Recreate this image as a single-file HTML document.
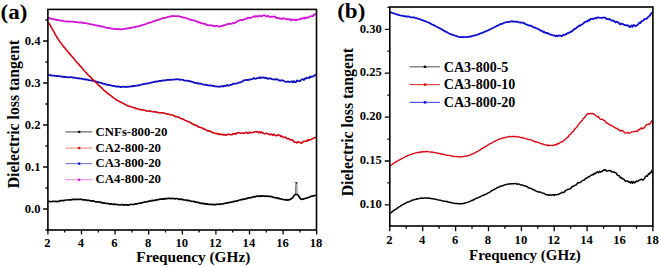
<!DOCTYPE html>
<html><head><meta charset="utf-8"><style>
html,body{margin:0;padding:0;background:#fff;}
svg{display:block;}
</style></head><body>
<svg width="660" height="267" viewBox="0 0 660 267">
<rect width="660" height="267" fill="#fff"/>
<path d="M48.0,17.7 L49.0,17.9 L50.0,18.5 L51.0,18.5 L52.0,19.0 L53.0,19.1 L54.0,19.2 L55.0,19.6 L56.0,19.6 L57.0,20.0 L58.0,20.0 L59.0,20.1 L60.0,20.5 L61.0,20.8 L62.0,20.6 L63.0,20.8 L64.0,21.1 L65.0,21.3 L66.0,21.3 L67.0,21.3 L68.0,21.7 L69.0,21.3 L70.0,21.8 L71.0,21.6 L72.0,21.6 L73.0,21.7 L74.0,21.9 L75.0,22.2 L76.0,22.0 L77.0,22.3 L78.0,22.4 L79.0,22.4 L80.0,22.6 L81.0,22.4 L82.0,22.6 L83.0,22.8 L84.0,23.1 L85.0,23.1 L86.0,23.2 L87.0,23.5 L88.0,23.7 L89.0,23.8 L90.0,24.2 L91.0,24.3 L92.0,24.3 L93.0,24.7 L94.0,24.9 L95.0,25.2 L96.0,25.4 L97.0,25.4 L98.0,25.9 L99.0,25.7 L100.0,26.1 L101.0,26.5 L102.0,26.4 L103.0,26.8 L104.0,26.8 L105.0,27.3 L106.0,27.6 L107.0,27.7 L108.0,28.0 L109.0,28.0 L110.0,28.3 L111.0,28.4 L112.0,28.6 L113.0,28.7 L114.0,29.0 L115.0,29.1 L116.0,29.0 L117.0,29.2 L118.0,28.9 L119.0,29.3 L120.0,29.2 L121.0,29.4 L122.0,29.3 L123.0,28.9 L124.0,28.9 L125.0,28.9 L126.0,28.5 L127.0,28.6 L128.0,28.3 L129.0,28.1 L130.0,27.9 L131.0,28.0 L132.0,27.5 L133.0,27.4 L134.0,27.2 L135.0,27.2 L136.0,26.6 L137.0,26.5 L138.0,26.3 L139.0,26.2 L140.0,25.9 L141.0,25.6 L142.0,25.0 L143.0,24.8 L144.0,24.5 L145.0,24.4 L146.0,24.1 L147.0,23.4 L148.0,23.1 L149.0,22.8 L150.0,22.5 L151.0,22.3 L152.0,22.0 L153.0,21.4 L154.0,21.0 L155.0,20.8 L156.0,20.4 L157.0,20.2 L158.0,20.1 L159.0,19.6 L160.0,19.1 L161.0,18.8 L162.0,18.6 L163.0,17.9 L164.0,18.1 L165.0,17.8 L166.0,17.6 L167.0,17.3 L168.0,16.8 L169.0,16.7 L170.0,16.3 L171.0,16.5 L172.0,16.1 L173.0,16.0 L174.0,16.1 L175.0,16.1 L176.0,16.3 L177.0,16.1 L178.0,16.2 L179.0,16.4 L180.0,16.5 L181.0,16.9 L182.0,16.8 L183.0,17.7 L184.0,17.7 L185.0,17.6 L186.0,18.0 L187.0,18.4 L188.0,18.7 L189.0,18.8 L190.0,19.7 L191.0,20.1 L192.0,20.0 L193.0,20.4 L194.0,20.4 L195.0,20.7 L196.0,21.2 L197.0,21.5 L198.0,22.3 L199.0,22.1 L200.0,22.3 L201.0,23.4 L202.0,23.3 L203.0,23.3 L204.0,23.9 L205.0,23.7 L206.0,24.4 L207.0,25.1 L208.0,25.2 L209.0,25.3 L210.0,25.1 L211.0,25.4 L212.0,25.3 L213.0,26.0 L214.0,25.9 L215.0,26.2 L216.0,25.8 L217.0,25.8 L218.0,26.3 L219.0,26.5 L220.0,26.3 L221.0,26.2 L222.0,26.0 L223.0,25.8 L224.0,25.1 L225.0,25.2 L226.0,24.8 L227.0,24.2 L228.0,24.0 L229.0,23.9 L230.0,23.6 L231.0,23.8 L232.0,23.7 L233.0,22.9 L234.0,23.1 L235.0,22.8 L236.0,22.4 L237.0,21.4 L238.0,20.9 L239.0,20.6 L240.0,20.2 L241.0,19.9 L242.0,20.0 L243.0,20.0 L244.0,19.6 L245.0,18.9 L246.0,18.8 L247.0,18.7 L248.0,17.5 L249.0,17.9 L250.0,18.0 L251.0,17.6 L252.0,17.3 L253.0,16.8 L254.0,16.2 L255.0,16.8 L256.0,16.0 L257.0,16.5 L258.0,16.6 L259.0,15.8 L260.0,15.7 L261.0,16.4 L262.0,16.1 L263.0,15.4 L264.0,15.3 L265.0,15.4 L266.0,16.5 L267.0,16.4 L268.0,15.7 L269.0,16.7 L270.0,17.0 L271.0,16.8 L272.0,16.5 L273.0,16.9 L274.0,16.5 L275.0,16.6 L276.0,18.1 L277.0,17.8 L278.0,17.8 L279.0,18.6 L280.0,18.1 L281.0,18.9 L282.0,19.0 L283.0,18.3 L284.0,18.5 L285.0,18.7 L286.0,18.8 L287.0,19.4 L288.0,19.1 L289.0,19.4 L290.0,19.1 L291.0,20.3 L292.0,19.5 L293.0,19.7 L294.0,19.9 L295.0,20.3 L296.0,19.5 L297.0,20.2 L298.0,19.5 L299.0,19.4 L300.0,19.3 L301.0,18.3 L302.0,18.8 L303.0,18.2 L304.0,17.7 L305.0,18.7 L306.0,17.4 L307.0,17.6 L308.0,17.7 L309.0,17.1 L310.0,16.4 L311.0,16.3 L312.0,16.0 L313.0,16.0 L314.0,14.4 L315.0,14.7 L316.0,13.7" fill="none" stroke="#d414d4" stroke-width="1.8" stroke-linejoin="round"/>
<path d="M48.0,74.7 L49.0,75.1 L50.0,75.1 L51.0,75.3 L52.0,75.5 L53.0,75.7 L54.0,75.6 L55.0,75.8 L56.0,75.9 L57.0,76.0 L58.0,76.2 L59.0,76.2 L60.0,76.4 L61.0,76.4 L62.0,76.8 L63.0,76.7 L64.0,76.9 L65.0,77.1 L66.0,76.8 L67.0,77.1 L68.0,77.3 L69.0,77.4 L70.0,77.1 L71.0,77.2 L72.0,77.5 L73.0,77.4 L74.0,77.6 L75.0,77.6 L76.0,78.1 L77.0,78.2 L78.0,78.4 L79.0,78.2 L80.0,78.6 L81.0,78.7 L82.0,78.6 L83.0,79.1 L84.0,79.3 L85.0,79.1 L86.0,79.6 L87.0,79.5 L88.0,79.8 L89.0,80.2 L90.0,80.4 L91.0,80.3 L92.0,80.6 L93.0,80.9 L94.0,81.1 L95.0,81.2 L96.0,81.6 L97.0,82.0 L98.0,81.9 L99.0,82.5 L100.0,82.7 L101.0,82.8 L102.0,83.2 L103.0,83.6 L104.0,83.8 L105.0,83.8 L106.0,84.6 L107.0,84.7 L108.0,85.0 L109.0,84.8 L110.0,85.1 L111.0,85.3 L112.0,85.8 L113.0,85.8 L114.0,85.9 L115.0,86.2 L116.0,86.6 L117.0,86.7 L118.0,86.5 L119.0,86.5 L120.0,87.0 L121.0,86.9 L122.0,87.0 L123.0,86.7 L124.0,86.7 L125.0,87.0 L126.0,86.8 L127.0,86.6 L128.0,86.9 L129.0,86.7 L130.0,86.7 L131.0,86.2 L132.0,86.5 L133.0,85.9 L134.0,86.2 L135.0,85.8 L136.0,85.6 L137.0,85.6 L138.0,85.6 L139.0,85.1 L140.0,84.8 L141.0,84.8 L142.0,84.5 L143.0,84.2 L144.0,84.0 L145.0,83.8 L146.0,83.6 L147.0,83.5 L148.0,83.3 L149.0,83.3 L150.0,82.8 L151.0,82.7 L152.0,82.3 L153.0,82.2 L154.0,81.8 L155.0,81.8 L156.0,81.4 L157.0,81.6 L158.0,81.3 L159.0,80.9 L160.0,80.9 L161.0,81.0 L162.0,80.4 L163.0,80.6 L164.0,80.3 L165.0,80.2 L166.0,80.3 L167.0,79.9 L168.0,79.8 L169.0,79.9 L170.0,80.0 L171.0,79.5 L172.0,79.8 L173.0,79.7 L174.0,79.6 L175.0,79.4 L176.0,79.4 L177.0,79.2 L178.0,79.3 L179.0,79.4 L180.0,79.9 L181.0,79.7 L182.0,79.7 L183.0,79.8 L184.0,80.5 L185.0,80.7 L186.0,80.7 L187.0,80.6 L188.0,80.8 L189.0,81.0 L190.0,81.4 L191.0,81.4 L192.0,81.8 L193.0,81.9 L194.0,82.7 L195.0,83.0 L196.0,82.9 L197.0,82.9 L198.0,83.7 L199.0,83.4 L200.0,83.7 L201.0,83.6 L202.0,84.2 L203.0,84.5 L204.0,84.7 L205.0,84.7 L206.0,85.1 L207.0,84.9 L208.0,85.3 L209.0,85.3 L210.0,85.7 L211.0,85.5 L212.0,85.6 L213.0,86.0 L214.0,86.0 L215.0,86.4 L216.0,86.4 L217.0,86.7 L218.0,86.6 L219.0,86.6 L220.0,86.8 L221.0,86.2 L222.0,86.1 L223.0,86.6 L224.0,85.7 L225.0,86.1 L226.0,85.9 L227.0,85.0 L228.0,85.7 L229.0,85.5 L230.0,85.0 L231.0,84.9 L232.0,84.7 L233.0,83.7 L234.0,83.9 L235.0,83.6 L236.0,83.6 L237.0,83.3 L238.0,83.1 L239.0,82.5 L240.0,82.6 L241.0,82.0 L242.0,81.7 L243.0,80.9 L244.0,80.4 L245.0,80.2 L246.0,80.2 L247.0,79.7 L248.0,80.3 L249.0,79.7 L250.0,79.5 L251.0,79.3 L252.0,79.2 L253.0,78.7 L254.0,77.9 L255.0,78.8 L256.0,78.6 L257.0,78.1 L258.0,78.1 L259.0,78.1 L260.0,77.3 L261.0,78.1 L262.0,77.5 L263.0,77.3 L264.0,77.6 L265.0,78.2 L266.0,77.6 L267.0,78.4 L268.0,78.9 L269.0,78.4 L270.0,78.4 L271.0,78.7 L272.0,79.1 L273.0,79.4 L274.0,79.4 L275.0,79.7 L276.0,79.1 L277.0,79.4 L278.0,79.7 L279.0,80.7 L280.0,80.2 L281.0,80.8 L282.0,80.2 L283.0,80.5 L284.0,80.9 L285.0,81.7 L286.0,81.8 L287.0,81.9 L288.0,81.4 L289.0,81.8 L290.0,81.8 L291.0,81.8 L292.0,81.2 L293.0,82.3 L294.0,81.2 L295.0,82.2 L296.0,82.0 L297.0,80.4 L298.0,80.9 L299.0,81.2 L300.0,81.2 L301.0,80.1 L302.0,79.5 L303.0,79.1 L304.0,80.0 L305.0,78.4 L306.0,78.7 L307.0,77.6 L308.0,77.9 L309.0,78.2 L310.0,76.5 L311.0,77.2 L312.0,76.3 L313.0,76.6 L314.0,75.9 L315.0,74.8 L316.0,75.6" fill="none" stroke="#1010c4" stroke-width="1.8" stroke-linejoin="round"/>
<path d="M48.2,22.5 L49.2,23.7 L50.2,25.2 L51.2,27.2 L52.2,28.9 L53.2,30.7 L54.2,32.4 L55.2,34.3 L56.2,36.0 L57.2,37.9 L58.2,39.0 L59.2,40.9 L60.2,42.3 L61.2,43.3 L62.2,44.9 L63.2,46.1 L64.2,47.4 L65.3,48.4 L66.3,49.7 L67.3,50.9 L68.3,52.4 L69.3,53.4 L70.3,54.5 L71.3,55.7 L72.3,56.8 L73.3,57.9 L74.3,59.1 L75.3,60.6 L76.3,61.5 L77.3,63.0 L78.3,63.8 L79.3,64.9 L80.3,66.2 L81.3,67.1 L82.3,68.3 L83.3,69.7 L84.3,70.7 L85.3,71.8 L86.3,72.8 L87.3,74.0 L88.3,75.0 L89.3,75.9 L90.3,77.0 L91.3,77.7 L92.3,79.1 L93.3,79.9 L94.3,81.1 L95.3,82.0 L96.3,82.8 L97.3,83.7 L98.3,85.1 L99.4,85.7 L100.4,86.8 L101.4,87.7 L102.4,88.6 L103.4,89.7 L104.4,90.8 L105.4,91.3 L106.4,92.4 L107.4,93.0 L108.4,94.0 L109.4,94.7 L110.4,95.4 L111.4,96.1 L112.4,96.9 L113.4,97.9 L114.4,98.4 L115.4,99.0 L116.4,100.0 L117.4,100.6 L118.4,101.0 L119.4,101.4 L120.4,102.0 L121.4,102.5 L122.4,103.1 L123.4,103.5 L124.4,104.0 L125.4,104.5 L126.4,105.1 L127.4,105.7 L128.4,106.0 L129.4,106.3 L130.4,106.6 L131.4,107.0 L132.5,107.3 L133.5,107.6 L134.5,107.8 L135.5,108.2 L136.5,108.8 L137.5,108.6 L138.5,109.1 L139.5,109.4 L140.5,109.7 L141.5,109.6 L142.5,109.9 L143.5,110.0 L144.5,110.3 L145.5,110.5 L146.5,110.9 L147.5,111.0 L148.5,111.2 L149.5,110.9 L150.5,111.1 L151.5,111.5 L152.5,111.8 L153.5,111.7 L154.5,111.9 L155.5,111.7 L156.5,112.0 L157.5,112.5 L158.5,112.6 L159.5,112.7 L160.5,112.9 L161.5,112.7 L162.5,112.7 L163.5,112.9 L164.5,113.3 L165.6,113.6 L166.6,114.0 L167.6,114.1 L168.6,114.3 L169.6,114.6 L170.6,114.7 L171.6,115.0 L172.6,115.0 L173.6,115.8 L174.6,115.8 L175.6,116.6 L176.6,116.8 L177.6,116.9 L178.6,117.2 L179.6,117.7 L180.6,118.4 L181.6,118.9 L182.6,118.9 L183.6,119.3 L184.6,120.1 L185.6,120.6 L186.6,120.9 L187.6,121.2 L188.6,122.0 L189.6,122.0 L190.6,122.7 L191.6,123.3 L192.6,124.2 L193.6,124.4 L194.6,125.1 L195.6,125.3 L196.6,125.5 L197.6,126.0 L198.6,127.1 L199.7,127.3 L200.7,127.5 L201.7,127.7 L202.7,128.5 L203.7,129.1 L204.7,129.3 L205.7,129.6 L206.7,130.4 L207.7,131.0 L208.7,130.8 L209.7,131.0 L210.7,131.6 L211.7,132.0 L212.7,132.6 L213.7,132.5 L214.7,133.3 L215.7,133.5 L216.7,133.6 L217.7,133.5 L218.7,134.5 L219.7,134.0 L220.7,134.7 L221.7,134.3 L222.7,134.4 L223.7,135.0 L224.7,134.6 L225.7,135.3 L226.7,134.8 L227.7,134.4 L228.7,134.4 L229.7,134.5 L230.7,134.7 L231.7,134.8 L232.8,133.8 L233.8,133.9 L234.8,133.5 L235.8,134.2 L236.8,133.1 L237.8,132.8 L238.8,132.6 L239.8,132.9 L240.8,133.3 L241.8,133.2 L242.8,133.0 L243.8,133.3 L244.8,133.2 L245.8,132.5 L246.8,132.4 L247.8,133.3 L248.8,133.1 L249.8,132.2 L250.8,132.9 L251.8,132.5 L252.8,132.4 L253.8,132.2 L254.8,131.9 L255.8,131.6 L256.8,131.9 L257.8,131.9 L258.8,132.7 L259.8,131.7 L260.8,132.9 L261.8,132.1 L262.8,132.6 L263.8,133.4 L264.8,133.7 L265.9,133.4 L266.9,133.2 L267.9,134.0 L268.9,134.0 L269.9,134.9 L270.9,134.1 L271.9,134.5 L272.9,135.4 L273.9,134.3 L274.9,134.9 L275.9,135.6 L276.9,135.7 L277.9,134.8 L278.9,135.0 L279.9,135.2 L280.9,136.7 L281.9,136.0 L282.9,137.0 L283.9,137.6 L284.9,137.1 L285.9,137.4 L286.9,138.8 L287.9,138.7 L288.9,138.6 L289.9,139.8 L290.9,139.7 L291.9,140.1 L292.9,140.1 L293.9,141.7 L294.9,142.3 L295.9,142.2 L296.9,142.9 L297.9,141.7 L298.9,142.1 L300.0,142.4 L301.0,143.1 L302.0,142.9 L303.0,141.8 L304.0,141.3 L305.0,141.3 L306.0,141.0 L307.0,141.3 L308.0,139.7 L309.0,140.3 L310.0,139.8 L311.0,139.5 L312.0,139.1 L313.0,138.5 L314.0,137.7 L315.0,137.5 L316.0,137.4" fill="none" stroke="#d40010" stroke-width="1.6" stroke-linejoin="round"/>
<path d="M48.0,201.8 L49.0,201.4 L50.0,201.5 L51.0,201.8 L52.0,201.5 L53.0,201.3 L54.0,201.3 L55.0,201.5 L56.0,201.3 L57.0,201.6 L58.0,201.4 L59.0,201.4 L60.0,200.8 L61.0,200.6 L62.0,200.5 L63.0,200.6 L64.0,200.6 L65.0,200.3 L66.0,200.0 L67.0,200.0 L68.0,200.0 L69.0,199.9 L70.0,199.9 L71.0,199.9 L72.0,199.7 L73.0,199.3 L74.0,199.6 L75.0,199.3 L76.0,199.4 L77.0,199.3 L78.0,199.5 L79.1,199.3 L80.1,199.3 L81.1,199.4 L82.1,199.4 L83.1,199.9 L84.1,199.8 L85.1,199.8 L86.1,200.0 L87.1,200.4 L88.1,200.3 L89.1,200.3 L90.1,200.8 L91.1,200.8 L92.1,201.2 L93.1,200.8 L94.1,201.2 L95.1,201.6 L96.1,201.8 L97.1,202.0 L98.1,201.7 L99.1,202.0 L100.1,202.1 L101.1,202.3 L102.1,202.9 L103.1,202.9 L104.1,203.2 L105.1,203.1 L106.1,203.5 L107.1,203.4 L108.1,203.5 L109.1,203.9 L110.1,204.2 L111.1,203.8 L112.1,204.2 L113.1,204.3 L114.1,204.2 L115.1,204.4 L116.1,204.4 L117.1,204.5 L118.1,204.6 L119.1,204.9 L120.1,205.0 L121.1,204.7 L122.1,204.7 L123.1,204.9 L124.1,205.1 L125.1,204.8 L126.1,204.8 L127.1,204.8 L128.1,205.1 L129.1,204.9 L130.1,204.5 L131.1,204.4 L132.1,204.5 L133.1,204.5 L134.1,204.4 L135.1,203.9 L136.1,203.8 L137.1,203.9 L138.1,203.5 L139.1,203.2 L140.1,203.0 L141.2,203.2 L142.2,202.6 L143.2,202.5 L144.2,202.1 L145.2,201.9 L146.2,202.0 L147.2,201.9 L148.2,201.3 L149.2,201.0 L150.2,201.2 L151.2,200.7 L152.2,200.4 L153.2,200.7 L154.2,200.3 L155.2,200.3 L156.2,199.9 L157.2,200.0 L158.2,199.6 L159.2,199.3 L160.2,199.1 L161.2,199.2 L162.2,199.2 L163.2,199.2 L164.2,198.6 L165.2,198.8 L166.2,198.6 L167.2,198.6 L168.2,198.3 L169.2,198.3 L170.2,198.5 L171.2,198.7 L172.2,198.2 L173.2,198.5 L174.2,198.7 L175.2,198.9 L176.2,198.5 L177.2,198.5 L178.2,199.1 L179.2,199.3 L180.2,199.1 L181.2,199.0 L182.2,199.7 L183.2,199.5 L184.2,200.0 L185.2,200.0 L186.2,200.3 L187.2,200.1 L188.2,200.7 L189.2,200.5 L190.2,200.8 L191.2,201.3 L192.2,201.5 L193.2,201.3 L194.2,201.6 L195.2,201.9 L196.2,202.2 L197.2,202.3 L198.2,202.4 L199.2,202.7 L200.2,203.1 L201.2,203.4 L202.3,203.1 L203.3,203.6 L204.3,203.9 L205.3,203.6 L206.3,204.2 L207.3,203.9 L208.3,204.3 L209.3,204.4 L210.3,204.5 L211.3,204.3 L212.3,204.4 L213.3,204.6 L214.3,204.5 L215.3,204.6 L216.3,204.4 L217.3,204.3 L218.3,204.0 L219.3,204.3 L220.3,204.1 L221.3,203.8 L222.3,204.0 L223.3,203.9 L224.3,203.5 L225.3,203.2 L226.3,203.2 L227.3,202.8 L228.3,202.6 L229.3,202.6 L230.3,202.2 L231.3,202.2 L232.3,202.0 L233.3,201.5 L234.3,201.6 L235.3,201.0 L236.3,201.1 L237.3,200.9 L238.3,200.5 L239.3,200.0 L240.3,200.0 L241.3,199.6 L242.3,199.7 L243.3,199.0 L244.3,199.1 L245.3,199.0 L246.3,198.6 L247.3,198.4 L248.3,197.8 L249.3,198.0 L250.3,197.5 L251.3,197.6 L252.3,197.3 L253.3,196.7 L254.3,196.9 L255.3,196.8 L256.3,196.2 L257.3,196.2 L258.3,196.4 L259.3,195.9 L260.3,196.3 L261.3,195.9 L262.3,196.2 L263.3,195.8 L264.4,196.1 L265.4,196.4 L266.4,196.0 L267.4,196.1 L268.4,196.4 L269.4,196.4 L270.4,196.4 L271.4,196.6 L272.4,196.8 L273.4,197.4 L274.4,197.5 L275.4,197.8 L276.4,197.6 L277.4,198.3 L278.4,198.1 L279.4,198.6 L280.4,198.9 L281.4,199.0 L282.4,199.5 L283.4,199.5 L284.4,199.7 L285.4,200.0 L286.4,199.6 L287.4,200.2 L288.4,199.9 L289.4,199.6 L290.4,199.5 L291.4,198.6 L292.4,198.1 L293.4,196.6 L294.4,194.9" fill="none" stroke="#000000" stroke-width="1.7" stroke-linejoin="round"/>
<path d="M298.1,194.9 L299.2,197.1 L300.2,198.4 L301.3,199.4 L302.3,199.0 L303.4,199.2 L304.4,198.5 L305.5,198.4 L306.5,198.2 L307.6,197.7 L308.6,197.4 L309.7,196.9 L310.7,196.4 L311.8,196.2 L312.8,195.9 L313.9,195.9 L314.9,195.5 L316.0,195.2" fill="none" stroke="#000000" stroke-width="1.7" stroke-linejoin="round"/>
<path d="M390.0,12.3 L391.0,12.4 L392.0,12.8 L393.0,13.3 L394.0,13.4 L395.0,13.7 L396.0,14.2 L397.0,14.4 L398.0,14.8 L399.0,15.0 L400.0,15.4 L401.0,15.6 L402.0,15.6 L403.0,16.0 L404.0,16.1 L405.0,16.1 L406.0,16.6 L407.0,16.4 L408.0,16.5 L409.0,16.7 L410.0,17.0 L411.0,17.3 L412.0,17.4 L413.0,17.4 L414.0,17.5 L415.0,17.7 L416.0,18.2 L417.1,18.4 L418.1,18.6 L419.1,19.0 L420.1,19.2 L421.1,19.8 L422.1,20.1 L423.1,20.2 L424.1,20.9 L425.1,21.0 L426.1,21.6 L427.1,22.0 L428.1,22.3 L429.1,22.7 L430.1,23.5 L431.1,23.7 L432.1,24.4 L433.1,25.0 L434.1,25.2 L435.1,25.8 L436.1,26.5 L437.1,26.9 L438.1,27.5 L439.1,28.1 L440.1,28.4 L441.1,29.0 L442.1,29.6 L443.1,30.0 L444.1,30.9 L445.1,31.4 L446.1,31.9 L447.1,32.2 L448.1,33.0 L449.1,33.5 L450.1,33.8 L451.1,34.4 L452.1,34.7 L453.1,35.0 L454.1,35.3 L455.1,35.7 L456.1,35.9 L457.1,36.3 L458.1,36.7 L459.1,36.9 L460.1,37.1 L461.1,37.1 L462.1,37.0 L463.1,37.2 L464.1,37.1 L465.1,37.2 L466.1,37.1 L467.1,36.9 L468.1,36.9 L469.2,36.9 L470.2,36.4 L471.2,36.5 L472.2,35.9 L473.2,35.8 L474.2,35.5 L475.2,35.4 L476.2,35.2 L477.2,34.8 L478.2,34.2 L479.2,34.1 L480.2,33.5 L481.2,33.1 L482.2,32.9 L483.2,32.4 L484.2,32.0 L485.2,31.6 L486.2,31.2 L487.2,30.6 L488.2,30.3 L489.2,29.7 L490.2,29.3 L491.2,28.7 L492.2,28.3 L493.2,27.8 L494.2,27.2 L495.2,26.7 L496.2,26.3 L497.2,25.7 L498.2,25.5 L499.2,24.8 L500.2,24.3 L501.2,23.9 L502.2,23.9 L503.2,23.3 L504.2,22.8 L505.2,22.5 L506.2,22.2 L507.2,22.2 L508.2,22.0 L509.2,21.8 L510.2,21.7 L511.2,21.2 L512.2,21.5 L513.2,21.3 L514.2,21.6 L515.2,21.7 L516.2,21.8 L517.2,21.5 L518.2,22.1 L519.2,22.4 L520.2,22.6 L521.2,22.4 L522.3,22.7 L523.3,23.0 L524.3,23.2 L525.3,24.2 L526.3,24.5 L527.3,24.7 L528.3,25.3 L529.3,25.5 L530.3,25.7 L531.3,25.9 L532.3,26.4 L533.3,27.3 L534.3,27.3 L535.3,27.8 L536.3,28.4 L537.3,28.5 L538.3,29.1 L539.3,29.6 L540.3,30.5 L541.3,30.6 L542.3,31.0 L543.3,32.0 L544.3,32.0 L545.3,32.8 L546.3,33.0 L547.3,32.8 L548.3,33.6 L549.3,34.0 L550.3,34.7 L551.3,34.6 L552.3,35.3 L553.3,35.4 L554.3,35.3 L555.3,36.2 L556.3,35.5 L557.3,36.4 L558.3,35.7 L559.3,35.4 L560.3,35.6 L561.3,36.0 L562.3,36.1 L563.3,34.7 L564.3,34.9 L565.3,34.5 L566.3,34.4 L567.3,33.2 L568.3,33.1 L569.3,32.4 L570.3,32.4 L571.3,31.1 L572.3,31.3 L573.3,29.8 L574.4,29.0 L575.4,28.9 L576.4,28.0 L577.4,26.7 L578.4,26.7 L579.4,25.3 L580.4,25.5 L581.4,24.7 L582.4,24.2 L583.4,23.4 L584.4,22.4 L585.4,21.9 L586.4,21.3 L587.4,21.6 L588.4,19.9 L589.4,20.6 L590.4,19.0 L591.4,18.8 L592.4,18.6 L593.4,19.2 L594.4,18.3 L595.4,17.9 L596.4,18.5 L597.4,17.3 L598.4,17.5 L599.4,17.6 L600.4,17.9 L601.4,17.9 L602.4,17.9 L603.4,17.5 L604.4,17.7 L605.4,17.6 L606.4,19.0 L607.4,19.0 L608.4,19.4 L609.4,18.8 L610.4,19.6 L611.4,20.6 L612.4,20.7 L613.4,20.3 L614.4,21.3 L615.4,22.4 L616.4,21.7 L617.4,22.0 L618.4,22.6 L619.4,23.7 L620.4,24.4 L621.4,23.5 L622.4,23.9 L623.4,24.4 L624.4,24.8 L625.4,25.5 L626.5,25.1 L627.5,25.6 L628.5,25.5 L629.5,27.1 L630.5,26.7 L631.5,25.4 L632.5,26.9 L633.5,25.0 L634.5,25.3 L635.5,26.2 L636.5,25.5 L637.5,24.9 L638.5,23.8 L639.5,22.7 L640.5,23.1 L641.5,21.3 L642.5,20.8 L643.5,20.5 L644.5,19.0 L645.5,18.9 L646.5,18.9 L647.5,17.8 L648.5,16.5 L649.5,15.9 L650.5,14.6 L651.5,12.9 L652.5,12.9" fill="none" stroke="#1010d0" stroke-width="1.8" stroke-linejoin="round"/>
<path d="M390.0,165.7 L391.0,165.2 L392.0,164.6 L393.0,163.7 L394.0,163.2 L395.0,162.6 L396.0,161.8 L397.0,161.2 L398.0,160.8 L399.0,160.2 L400.0,159.6 L401.0,159.0 L402.0,158.6 L403.0,158.0 L404.0,157.5 L405.0,156.9 L406.0,156.4 L407.0,156.1 L408.0,155.4 L409.0,155.1 L410.0,154.9 L411.0,154.5 L412.0,154.1 L413.0,153.6 L414.0,153.4 L415.0,153.1 L416.0,152.9 L417.1,152.6 L418.1,152.5 L419.1,152.4 L420.1,152.0 L421.1,152.0 L422.1,152.0 L423.1,151.7 L424.1,151.7 L425.1,151.9 L426.1,151.5 L427.1,151.7 L428.1,151.6 L429.1,151.9 L430.1,152.1 L431.1,152.0 L432.1,151.9 L433.1,152.3 L434.1,152.4 L435.1,152.7 L436.1,152.8 L437.1,153.0 L438.1,153.3 L439.1,153.4 L440.1,153.6 L441.1,154.0 L442.1,153.9 L443.1,154.4 L444.1,154.5 L445.1,154.8 L446.1,154.8 L447.1,155.4 L448.1,155.3 L449.1,155.4 L450.1,155.7 L451.1,155.9 L452.1,156.0 L453.1,156.3 L454.1,156.4 L455.1,156.6 L456.1,156.6 L457.1,156.6 L458.1,156.7 L459.1,156.9 L460.1,157.0 L461.1,156.8 L462.1,156.6 L463.1,156.7 L464.1,156.4 L465.1,156.2 L466.1,156.0 L467.1,156.0 L468.1,155.7 L469.2,155.3 L470.2,154.9 L471.2,154.5 L472.2,153.9 L473.2,153.8 L474.2,153.1 L475.2,152.7 L476.2,152.2 L477.2,151.7 L478.2,151.0 L479.2,150.3 L480.2,149.8 L481.2,149.0 L482.2,148.7 L483.2,147.9 L484.2,147.5 L485.2,146.7 L486.2,146.1 L487.2,145.4 L488.2,144.9 L489.2,144.2 L490.2,143.6 L491.2,143.3 L492.2,142.6 L493.2,142.0 L494.2,141.5 L495.2,141.1 L496.2,140.6 L497.2,140.2 L498.2,139.7 L499.2,139.2 L500.2,139.0 L501.2,138.6 L502.2,138.0 L503.2,138.0 L504.2,137.8 L505.2,137.5 L506.2,137.0 L507.2,137.1 L508.2,136.9 L509.2,136.5 L510.2,136.4 L511.2,136.9 L512.2,136.7 L513.2,136.5 L514.2,136.4 L515.2,136.5 L516.2,136.6 L517.2,137.0 L518.2,136.9 L519.2,136.9 L520.2,137.5 L521.2,137.6 L522.3,137.4 L523.3,138.1 L524.3,138.1 L525.3,138.4 L526.3,138.6 L527.3,139.1 L528.3,139.3 L529.3,139.6 L530.3,139.5 L531.3,140.2 L532.3,140.4 L533.3,141.0 L534.3,141.1 L535.3,141.9 L536.3,142.0 L537.3,142.2 L538.3,142.5 L539.3,142.8 L540.3,143.5 L541.3,143.5 L542.3,144.1 L543.3,144.1 L544.3,144.7 L545.3,144.9 L546.3,145.1 L547.3,145.6 L548.3,144.9 L549.3,145.7 L550.3,145.4 L551.3,145.4 L552.3,145.5 L553.3,145.5 L554.3,144.9 L555.3,144.7 L556.3,145.0 L557.3,143.6 L558.3,143.9 L559.3,143.4 L560.3,142.2 L561.3,142.2 L562.3,141.7 L563.3,141.2 L564.3,139.8 L565.3,139.7 L566.3,138.3 L567.3,137.3 L568.3,136.9 L569.3,134.8 L570.3,134.6 L571.3,133.4 L572.3,131.9 L573.3,131.4 L574.4,129.6 L575.4,128.6 L576.4,127.4 L577.4,126.5 L578.4,124.4 L579.4,123.5 L580.4,122.2 L581.4,121.1 L582.4,120.3 L583.4,118.3 L584.4,117.9 L585.4,116.1 L586.4,115.2 L587.4,113.9 L588.4,113.5 L589.4,113.8 L590.4,113.3 L591.4,113.7 L592.4,113.4 L593.4,113.8 L594.4,114.3 L595.4,115.3 L596.4,116.0 L597.4,116.9 L598.4,116.5 L599.4,118.3 L600.4,119.2 L601.4,119.3 L602.4,119.2 L603.4,120.2 L604.4,120.4 L605.4,121.3 L606.4,123.1 L607.4,123.1 L608.4,123.8 L609.4,124.6 L610.4,125.4 L611.4,125.5 L612.4,126.0 L613.4,126.7 L614.4,127.4 L615.4,127.8 L616.4,128.6 L617.4,128.4 L618.4,129.8 L619.4,130.0 L620.4,131.1 L621.4,130.3 L622.4,130.9 L623.4,131.0 L624.4,132.7 L625.4,133.1 L626.5,132.8 L627.5,132.3 L628.5,133.2 L629.5,133.1 L630.5,132.6 L631.5,131.9 L632.5,131.8 L633.5,131.8 L634.5,131.3 L635.5,131.2 L636.5,131.3 L637.5,131.5 L638.5,129.3 L639.5,129.9 L640.5,128.3 L641.5,128.0 L642.5,128.9 L643.5,127.8 L644.5,127.9 L645.5,126.2 L646.5,124.5 L647.5,124.6 L648.5,124.2 L649.5,124.2 L650.5,123.4 L651.5,121.4 L652.5,120.3" fill="none" stroke="#dc0010" stroke-width="1.35" stroke-linejoin="round"/>
<path d="M390.0,213.4 L391.0,212.8 L392.0,211.9 L393.0,211.1 L394.0,210.3 L395.0,209.5 L396.0,209.1 L397.0,208.2 L398.0,207.8 L399.0,206.8 L400.0,206.5 L401.0,205.6 L402.0,204.9 L403.0,204.6 L404.0,203.9 L405.0,203.5 L406.0,202.8 L407.0,202.3 L408.0,202.1 L409.0,201.6 L410.0,201.3 L411.0,200.8 L412.0,200.2 L413.0,200.1 L414.0,199.8 L415.0,199.4 L416.0,199.3 L417.1,198.8 L418.1,198.9 L419.1,198.6 L420.1,198.2 L421.1,198.0 L422.1,198.2 L423.1,198.2 L424.1,197.9 L425.1,197.9 L426.1,198.1 L427.1,198.0 L428.1,198.3 L429.1,198.3 L430.1,198.2 L431.1,198.5 L432.1,198.7 L433.1,198.8 L434.1,199.1 L435.1,199.1 L436.1,199.6 L437.1,199.6 L438.1,199.9 L439.1,200.1 L440.1,200.2 L441.1,200.4 L442.1,200.8 L443.1,201.1 L444.1,201.2 L445.1,201.3 L446.1,201.4 L447.1,201.5 L448.1,202.1 L449.1,202.2 L450.1,202.5 L451.1,202.5 L452.1,202.8 L453.1,203.1 L454.1,203.3 L455.1,203.4 L456.1,203.4 L457.1,203.6 L458.1,203.8 L459.1,203.7 L460.1,203.8 L461.1,203.7 L462.1,203.7 L463.1,203.6 L464.1,203.2 L465.1,202.9 L466.1,202.7 L467.1,202.4 L468.1,202.1 L469.2,201.8 L470.2,201.4 L471.2,200.6 L472.2,200.5 L473.2,200.0 L474.2,199.5 L475.2,198.9 L476.2,198.3 L477.2,198.1 L478.2,197.6 L479.2,197.1 L480.2,196.8 L481.2,196.1 L482.2,195.6 L483.2,195.3 L484.2,195.0 L485.2,194.3 L486.2,194.0 L487.2,193.6 L488.2,192.8 L489.2,192.3 L490.2,191.8 L491.2,191.1 L492.2,190.4 L493.2,189.9 L494.2,189.5 L495.2,188.9 L496.2,188.3 L497.2,187.6 L498.2,187.4 L499.2,187.0 L500.2,186.3 L501.2,186.1 L502.2,185.9 L503.2,185.5 L504.2,185.1 L505.2,184.8 L506.2,184.6 L507.2,184.2 L508.2,184.0 L509.2,183.9 L510.2,184.0 L511.2,183.8 L512.2,183.8 L513.2,183.7 L514.2,183.8 L515.2,183.6 L516.2,183.6 L517.2,184.3 L518.2,184.1 L519.2,184.1 L520.2,184.7 L521.2,185.1 L522.3,184.9 L523.3,185.5 L524.3,185.7 L525.3,186.2 L526.3,186.2 L527.3,186.6 L528.3,187.7 L529.3,188.1 L530.3,188.2 L531.3,188.7 L532.3,188.9 L533.3,189.8 L534.3,189.9 L535.3,190.8 L536.3,191.1 L537.3,191.6 L538.3,192.1 L539.3,191.9 L540.3,192.1 L541.3,192.6 L542.3,193.0 L543.3,193.2 L544.3,193.5 L545.3,194.2 L546.3,194.8 L547.3,194.6 L548.3,195.2 L549.3,195.3 L550.3,194.6 L551.3,195.2 L552.3,195.0 L553.3,194.6 L554.3,195.4 L555.3,194.5 L556.3,194.7 L557.3,194.5 L558.3,194.6 L559.3,193.9 L560.3,193.3 L561.3,193.0 L562.3,192.2 L563.3,192.7 L564.3,192.2 L565.3,190.8 L566.3,190.0 L567.3,189.7 L568.3,189.2 L569.3,189.2 L570.3,188.6 L571.3,187.8 L572.3,186.2 L573.3,186.4 L574.4,185.7 L575.4,185.0 L576.4,184.8 L577.4,183.0 L578.4,182.5 L579.4,182.8 L580.4,182.4 L581.4,181.5 L582.4,180.5 L583.4,180.3 L584.4,180.0 L585.4,178.5 L586.4,178.3 L587.4,177.6 L588.4,176.8 L589.4,176.7 L590.4,175.7 L591.4,175.2 L592.4,174.5 L593.4,174.8 L594.4,173.2 L595.4,173.8 L596.4,172.5 L597.4,171.8 L598.4,172.8 L599.4,171.3 L600.4,172.1 L601.4,171.6 L602.4,171.4 L603.4,170.0 L604.4,170.4 L605.4,169.7 L606.4,171.0 L607.4,170.9 L608.4,170.7 L609.4,170.6 L610.4,170.6 L611.4,171.8 L612.4,171.6 L613.4,172.3 L614.4,172.0 L615.4,172.8 L616.4,173.2 L617.4,175.2 L618.4,175.7 L619.4,175.8 L620.4,177.9 L621.4,177.6 L622.4,178.7 L623.4,178.9 L624.4,179.8 L625.4,181.4 L626.5,180.9 L627.5,180.9 L628.5,181.9 L629.5,181.7 L630.5,183.0 L631.5,181.5 L632.5,183.3 L633.5,181.4 L634.5,182.9 L635.5,182.3 L636.5,181.1 L637.5,181.3 L638.5,180.6 L639.5,180.1 L640.5,179.5 L641.5,179.3 L642.5,180.1 L643.5,179.5 L644.5,178.7 L645.5,176.2 L646.5,175.9 L647.5,176.3 L648.5,173.6 L649.5,174.1 L650.5,172.1 L651.5,172.5 L652.5,169.1" fill="none" stroke="#000000" stroke-width="1.5" stroke-linejoin="round"/>
<path d="M295.5,194.6 L295.7,184.4 M296.9,184.4 L297.0,194.6" fill="none" stroke="#333" stroke-width="0.7"/>
<path d="M294.3,194.6 L298.2,194.6" fill="none" stroke="#000" stroke-width="1.6"/>
<path d="M294.9,182.3 L297.7,182.3 L296.3,184.6 Z" fill="#000"/>
<rect x="47.9" y="9.4" width="268.6" height="220.6" fill="none" stroke="#000" stroke-width="1.6"/>
<rect x="389.8" y="7.0" width="263.1" height="219.0" fill="none" stroke="#000" stroke-width="1.6"/>
<path d="M47.9,230.0 v4.6 M64.7,230.0 v2.4 M81.5,230.0 v4.6 M98.3,230.0 v2.4 M115.1,230.0 v4.6 M131.9,230.0 v2.4 M148.7,230.0 v4.6 M165.5,230.0 v2.4 M182.3,230.0 v4.6 M199.1,230.0 v2.4 M215.9,230.0 v4.6 M232.7,230.0 v2.4 M249.5,230.0 v4.6 M266.3,230.0 v2.4 M283.1,230.0 v4.6 M299.9,230.0 v2.4 M316.7,230.0 v4.6 M47.9,230.0 h-2.4 M47.9,209.0 h-4.8 M47.9,188.0 h-2.4 M47.9,167.0 h-4.8 M47.9,146.0 h-2.4 M47.9,125.0 h-4.8 M47.9,104.0 h-2.4 M47.9,83.0 h-4.8 M47.9,62.0 h-2.4 M47.9,41.0 h-4.8 M47.9,20.0 h-2.4 M389.8,226.0 v5.3 M406.2,226.0 v2.8 M422.7,226.0 v5.3 M439.1,226.0 v2.8 M455.6,226.0 v5.3 M472.0,226.0 v2.8 M488.5,226.0 v5.3 M504.9,226.0 v2.8 M521.4,226.0 v5.3 M537.8,226.0 v2.8 M554.2,226.0 v5.3 M570.7,226.0 v2.8 M587.1,226.0 v5.3 M603.6,226.0 v2.8 M620.0,226.0 v5.3 M636.5,226.0 v2.8 M652.9,226.0 v5.3 M389.8,204.9 h-5.0 M389.8,182.9 h-2.4 M389.8,161.0 h-5.0 M389.8,139.1 h-2.4 M389.8,117.1 h-5.0 M389.8,95.1 h-2.4 M389.8,73.2 h-5.0 M389.8,51.2 h-2.4 M389.8,29.3 h-5.0 M389.8,7.3 h-2.4" stroke="#000" stroke-width="1.3" fill="none"/>
<g font-family="Liberation Serif" font-weight="bold" font-size="12.6" fill="#000"><text x="47.3" y="247" text-anchor="middle">2</text><text x="389.3" y="243.8" text-anchor="middle">2</text><text x="80.9" y="247" text-anchor="middle">4</text><text x="422.2" y="243.8" text-anchor="middle">4</text><text x="114.5" y="247" text-anchor="middle">6</text><text x="455.1" y="243.8" text-anchor="middle">6</text><text x="148.1" y="247" text-anchor="middle">8</text><text x="488.0" y="243.8" text-anchor="middle">8</text><text x="181.7" y="247" text-anchor="middle">10</text><text x="520.9" y="243.8" text-anchor="middle">10</text><text x="215.3" y="247" text-anchor="middle">12</text><text x="553.8" y="243.8" text-anchor="middle">12</text><text x="248.9" y="247" text-anchor="middle">14</text><text x="586.6" y="243.8" text-anchor="middle">14</text><text x="282.5" y="247" text-anchor="middle">16</text><text x="619.5" y="243.8" text-anchor="middle">16</text><text x="316.1" y="247" text-anchor="middle">18</text><text x="652.4" y="243.8" text-anchor="middle">18</text><text x="40.5" y="213.0" text-anchor="end">0.0</text><text x="40.5" y="171.0" text-anchor="end">0.1</text><text x="40.5" y="129.0" text-anchor="end">0.2</text><text x="40.5" y="87.0" text-anchor="end">0.3</text><text x="40.5" y="45.0" text-anchor="end">0.4</text><text x="381.8" y="208.1" text-anchor="end">0.10</text><text x="381.8" y="164.2" text-anchor="end">0.15</text><text x="381.8" y="120.3" text-anchor="end">0.20</text><text x="381.8" y="76.4" text-anchor="end">0.25</text><text x="381.8" y="32.5" text-anchor="end">0.30</text></g>
<text font-family="Liberation Serif" font-weight="bold" font-size="15.3" x="136.3" y="262.1">Frequency (GHz)</text>
<text font-family="Liberation Serif" font-weight="bold" font-size="15.0" x="469.0" y="260.0">Frequency (GHz)</text>
<text font-family="Liberation Serif" font-weight="bold" font-size="15.8" transform="translate(19,188.3) rotate(-90)">Dielectric loss tangent</text>
<text font-family="Liberation Serif" font-weight="bold" font-size="15.8" transform="translate(353,196.3) rotate(-90)">Dielectric loss tangent</text>
<text font-family="Liberation Serif" font-weight="bold" font-size="23" transform="translate(0.6,19.1) scale(1,0.92)">(a)</text>
<text font-family="Liberation Serif" font-weight="bold" font-size="23" transform="translate(337.2,17.5) scale(1,0.92)">(b)</text>
<line x1="65.4" x2="92.4" y1="131.9" y2="131.9" stroke="#555" stroke-width="1.1"/>
<rect x="78.1" y="130.8" width="2.2" height="2.2" fill="#000"/>
<text font-family="Liberation Serif" font-weight="bold" font-size="12.8" x="95.6" y="135.5">CNFs-800-20</text>
<line x1="65.4" x2="92.4" y1="148.1" y2="148.1" stroke="#ee8888" stroke-width="1.1"/>
<rect x="78.1" y="147.0" width="2.2" height="2.2" fill="#e00000"/>
<text font-family="Liberation Serif" font-weight="bold" font-size="12.8" x="95.6" y="151.7">CA2-800-20</text>
<line x1="65.4" x2="92.4" y1="163.6" y2="163.6" stroke="#7777dd" stroke-width="1.1"/>
<rect x="78.1" y="162.5" width="2.2" height="2.2" fill="#0000d0"/>
<text font-family="Liberation Serif" font-weight="bold" font-size="12.8" x="95.6" y="167.2">CA3-800-20</text>
<line x1="65.4" x2="92.4" y1="179.7" y2="179.7" stroke="#ee88ee" stroke-width="1.1"/>
<rect x="78.1" y="178.6" width="2.2" height="2.2" fill="#dd00dd"/>
<text font-family="Liberation Serif" font-weight="bold" font-size="12.8" x="95.6" y="183.3">CA4-800-20</text>
<line x1="409.6" x2="439.8" y1="66.8" y2="66.8" stroke="#666" stroke-width="1.2"/>
<rect x="423.8" y="65.6" width="2.4" height="2.4" fill="#000"/>
<text font-family="Liberation Serif" font-weight="bold" font-size="14" x="443.8" y="71.6">CA3-800-5</text>
<line x1="409.6" x2="439.8" y1="84.6" y2="84.6" stroke="#e04444" stroke-width="1.2"/>
<rect x="423.8" y="83.4" width="2.4" height="2.4" fill="#e00000"/>
<text font-family="Liberation Serif" font-weight="bold" font-size="14" x="443.8" y="89.4">CA3-800-10</text>
<line x1="409.6" x2="439.8" y1="102.4" y2="102.4" stroke="#5555ee" stroke-width="1.2"/>
<rect x="423.8" y="101.2" width="2.4" height="2.4" fill="#0000d0"/>
<text font-family="Liberation Serif" font-weight="bold" font-size="14" x="443.8" y="107.2">CA3-800-20</text>
</svg>
</body></html>
